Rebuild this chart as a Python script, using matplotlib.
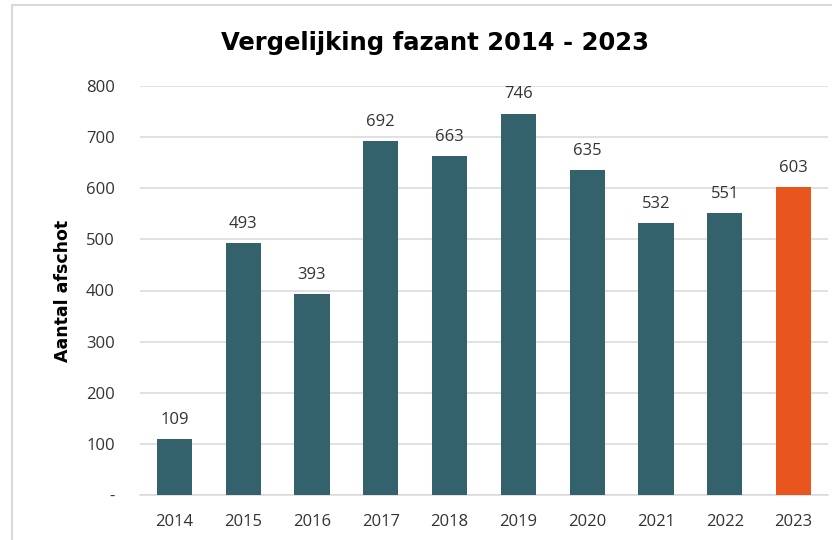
import matplotlib
matplotlib.use("Agg")
import matplotlib.pyplot as plt
from matplotlib.patches import Rectangle

years = ["2014", "2015", "2016", "2017", "2018", "2019", "2020", "2021", "2022", "2023"]
values = [109, 493, 393, 692, 663, 746, 635, 532, 551, 603]
yticks = [0, 100, 200, 300, 400, 500, 600, 700, 800]
ytick_labels = ["-", "100", "200", "300", "400", "500", "600", "700", "800"]
title = "Vergelijking fazant 2014 - 2023"
ylabel = "Aantal afschot"

teal = "#33626c"
orange = "#e8561d"
colors = [teal] * 9 + [orange]

plt.rcParams['font.family'] = ['Open Sans', 'DejaVu Sans']

fig = plt.figure(figsize=(8.32, 5.4), dpi=100)
fig.patch.set_facecolor("white")

# outer frame of the chart area
fig.patches.append(Rectangle((12/832, -0.1), 1.0, (540-5)/540 + 0.1,
                             transform=fig.transFigure, fill=False,
                             edgecolor="#d9d9d9", linewidth=1.5, zorder=0))

ax = fig.add_axes([140/832, 45/540, 688/832, 409/540])
x = list(range(len(years)))
bars = ax.bar(x, values, width=0.51, color=colors, zorder=3)
for xi, v in zip(x, values):
    ax.annotate(str(v), (xi, v), xytext=(0, 8), textcoords="offset points",
                ha="center", va="bottom", fontsize=12, color="#333333")

ax.set_xlim(-0.5, 9.5)
ax.set_ylim(0, 800)
ax.set_yticks(yticks)
ax.set_yticklabels(ytick_labels)
ax.set_xticks(x)
ax.set_xticklabels(years)
ax.tick_params(axis="both", length=0, labelsize=12, labelcolor="#333333")
ax.tick_params(axis="y", pad=18)
ax.tick_params(axis="x", pad=14)
ax.grid(axis="y", color="#d9d9d9", linewidth=1.1, zorder=0)
for s in ["top", "right", "left"]:
    ax.spines[s].set_visible(False)
ax.spines["bottom"].set_color("#d9d9d9")
ax.spines["bottom"].set_linewidth(1.1)

ax.set_ylabel(ylabel, fontsize=12.5, fontweight="bold", color="black",
              family=["DejaVu Sans"], labelpad=10)

fig.text(435/832, 1 - 43/540, title, ha="center", va="center",
         fontsize=17.5, fontweight="bold", color="black", family=["DejaVu Sans"])

fig.savefig("out.png", dpi=100)
